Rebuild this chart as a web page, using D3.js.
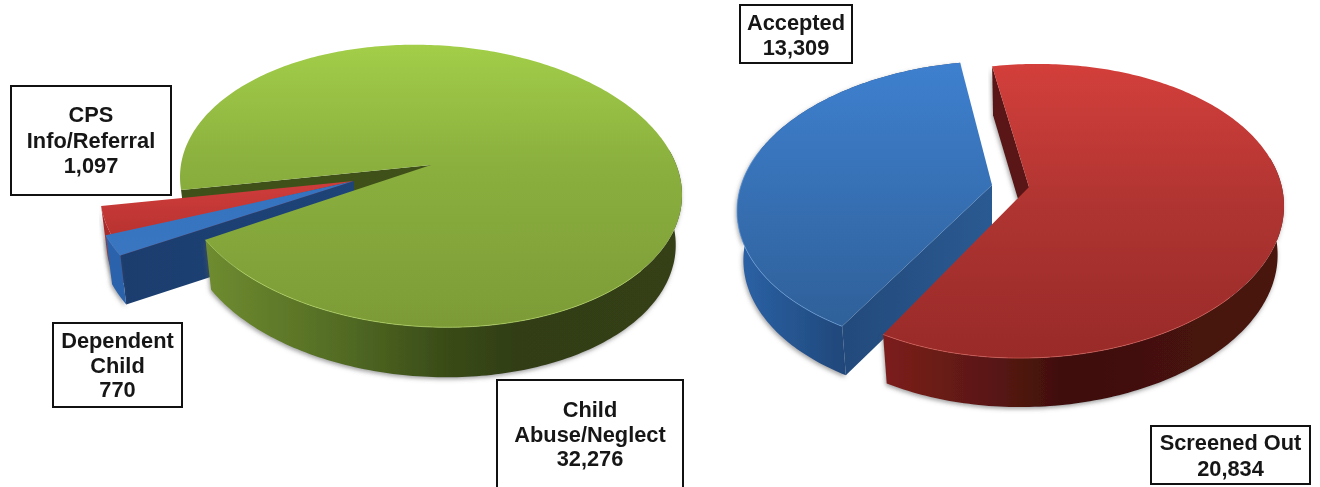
<!DOCTYPE html>
<html>
<head>
<meta charset="utf-8">
<script src="https://cdnjs.cloudflare.com/ajax/libs/d3/7.8.5/d3.min.js"></script>
<style>
html,body{margin:0;padding:0;background:#fff;overflow:hidden}
svg{display:block;filter:blur(0.55px)}
text{font-family:"Liberation Sans",Arial,sans-serif;font-weight:700;font-size:21.8px;fill:#161616;text-anchor:middle}
</style>
</head>
<body>
<svg id="chart" width="1320" height="487"></svg>
<script>
// ---- data ----
const intakeCategories = ["Child Abuse/Neglect", "Dependent Child", "CPS Info/Referral"];
const intakeValues = [32276, 770, 1097];
const screeningCategories = ["Screened Out", "Accepted"];
const screeningValues = [20834, 13309];

// ---- drawing set-up ----
const fmt = d3.format(",");
const rad = d => d * Math.PI / 180;
const svg = d3.select("#chart");
const defs = svg.append("defs");

const shadow = defs.append("filter").attr("id", "shade")
  .attr("x", "-10%").attr("y", "-10%").attr("width", "120%").attr("height", "125%");
shadow.append("feDropShadow").attr("dx", -1).attr("dy", 2).attr("stdDeviation", 2)
  .attr("flood-color", "#555").attr("flood-opacity", 0.55);

function gradient(id, x1, y1, x2, y2, stops) {
  const g = defs.append("linearGradient").attr("id", id)
    .attr("gradientUnits", "userSpaceOnUse")
    .attr("x1", x1).attr("y1", y1).attr("x2", x2).attr("y2", y2);
  stops.forEach(s => g.append("stop").attr("offset", s[0]).attr("stop-color", s[1]));
  return `url(#${id})`;
}

const pieStyles = {
  leftGreen: {
    top: gradient("gTop", 0, 45, 0, 327, [[0, "#a2ce49"], [0.42, "#8bb03e"], [1, "#7c9b37"]]),
    wall: gradient("gWall", 205, 0, 682, 0, [[0, "#6f8c30"], [0.28, "#536c24"], [0.5, "#3a4c18"], [0.65, "#313e13"], [1, "#353f14"]]),
    cut: "#3f5119", edge: "#b5d866"
  },
  leftBlue: {
    top: gradient("lbTop", 108, 180, 108, 260, [[0, "#3473c0"], [1, "#3a76c0"]]),
    wall: "#2c64ab", cut: gradient("lbCut", 120, 0, 355, 0, [[0, "#1b3d6e"], [1, "#1e4478"]]), edge: "#4a86cf"
  },
  leftRed: {
    top: gradient("lrTop", 0, 181, 0, 240, [[0, "#cf3d3b"], [1, "#b63230"]]),
    wall: "#a92c2b", cut: "#7a1f1d", edge: "#d8504e"
  },
  rightRed: {
    top: gradient("rTop", 0, 65, 0, 358, [[0, "#d33f3b"], [0.5, "#ae3431"], [1, "#982a28"]]),
    wall: gradient("rWall", 885, 0, 1284, 0, [[0, "#7c1f1b"], [0.3, "#551612"], [0.45, "#3f0f0c"], [1, "#4b1410"]]),
    cut: "#5a1512", edge: "#d8625c"
  },
  rightBlue: {
    top: gradient("bTop", 0, 63, 0, 326, [[0, "#3e80cf"], [1, "#2f6099"]]),
    wall: gradient("bWall", 738, 0, 850, 0, [[0, "#2b62a6"], [0.7, "#234f86"], [1, "#1f4578"]]),
    cut: gradient("bCut", 848, 0, 993, 0, [[0, "#234a7c"], [1, "#2a5a92"]]), edge: "#6ea2dd"
  }
};

const line = d3.line();

// a disc seen in perspective: the pie centre lands at (cx, cy), the far rim ryTop above it,
// the near rim ryBottom below it, with a slight shear for the camera rotation
function disc(cx, cy, rx, ryTop, ryBottom, depth, shear, turn = 0) {
  const k = (ryTop - ryBottom) / (ryTop + ryBottom);
  const sy = ryBottom * (1 + k), sx = rx * Math.sqrt(1 - k * k);
  const x = d3.scaleLinear().domain([-1, 1]).range([cx - sx, cx + sx]);
  const xLow = d3.scaleLinear().domain([-1, 1]).range([cx - sx * 0.975, cx + sx * 0.975]);
  const y = d3.scaleLinear().domain([-1, 1]).range([cy - sy, cy + sy]);
  const place = (a, xs, dy) => {
    const u = Math.sin(a + turn), v = -Math.cos(a + turn), w = 1 + k * v;
    const px = xs(u / w);
    return [px, y(v / w) + shear * (x(u / w) - cx) + dy];
  };
  return {
    top: a => place(a, x, 0),
    low: a => place(a, xLow, depth),
    apexTop: [cx, cy],
    apexLow: [cx, cy + depth]
  };
}

function rim(a0, a1, f) {
  const n = Math.max(2, Math.ceil(Math.abs(a1 - a0) / rad(1)));
  return d3.range(n + 1).map(i => f(a0 + (a1 - a0) * i / n));
}

function drawCutFace(g, D, a, fill, shaded) {
  const p = g.append("path").attr("fill", fill)
    .attr("d", line([D.apexTop, D.top(a), D.low(a), D.apexLow]) + "Z");
  if (shaded) p.attr("filter", "url(#shade)");
}
function drawOuterWall(g, D, a0, a1, fill) {
  g.append("path").attr("fill", fill).attr("filter", "url(#shade)")
    .attr("d", line([...rim(a0, a1, D.top), ...rim(a1, a0, D.low)]) + "Z");
}
function drawTop(g, D, s, style, a0, a1) {
  g.append("path").attr("fill", style.top)
    .attr("d", line([D.apexTop, ...rim(s.startAngle, s.endAngle, D.top)]) + "Z");
  // soft bright line on the near edge
  if (a1 > a0) g.append("path").attr("fill", "none").attr("stroke", style.edge)
    .attr("stroke-width", 1).attr("stroke-opacity", 0.65).attr("d", line(rim(a0, a1, D.top)));
}

// ---- left pie ----
const leftPie = d3.pie().sort(null).startAngle(rad(256.2)).endAngle(rad(616.2))(intakeValues);
const leftMain = disc(431, 165, 251, 120, 162, 50, 0.036);
const leftRedOut = disc(354, 181, 254, 120, 162, 49, 0.036);
const leftBlueOut = disc(354, 181, 260, 120, 162, 49, 0.036);
const L = svg.append("g").attr("class", "pie-left");

// far cut face of the large slice shows through the gap
drawCutFace(L, leftMain, leftPie[0].startAngle, pieStyles.leftGreen.cut);
// exploded small slices
drawOuterWall(L, leftRedOut, leftPie[2].startAngle, leftPie[2].endAngle, pieStyles.leftRed.wall);
drawCutFace(L, leftRedOut, leftPie[2].startAngle, pieStyles.leftRed.cut);
drawTop(L, leftRedOut, leftPie[2], pieStyles.leftRed, 0, 0);
drawCutFace(L, leftBlueOut, leftPie[1].startAngle, pieStyles.leftBlue.cut);
drawOuterWall(L, leftBlueOut, leftPie[1].startAngle, leftPie[1].endAngle, pieStyles.leftBlue.wall);
drawTop(L, leftBlueOut, leftPie[1], pieStyles.leftBlue, leftPie[1].startAngle, leftPie[1].endAngle);
// large slice: only the near part of its rim is visible
drawOuterWall(L, leftMain, rad(440), leftPie[0].endAngle, pieStyles.leftGreen.wall);
drawTop(L, leftMain, leftPie[0], pieStyles.leftGreen, rad(490), leftPie[0].endAngle);

// ---- right pie ----
const rightPie = d3.pie().sort(null).startAngle(rad(-9.8)).endAngle(rad(350.2))(screeningValues);
const rightRed = disc(1029, 187, 255, 123, 171, 49, -0.02);
const rightBlue = disc(992, 185, 255, 124, 166, 49, -0.02, rad(1.5));
const R = svg.append("g").attr("class", "pie-right");

drawOuterWall(R, rightBlue, rightPie[1].startAngle, rightPie[1].endAngle, pieStyles.rightBlue.wall);
drawCutFace(R, rightBlue, rightPie[1].startAngle, pieStyles.rightBlue.cut);
drawTop(R, rightBlue, rightPie[1], pieStyles.rightBlue, rightPie[1].startAngle, rad(285));
drawCutFace(R, rightRed, rightPie[0].startAngle, pieStyles.rightRed.cut, true);
drawOuterWall(R, rightRed, rad(80), rightPie[0].endAngle, pieStyles.rightRed.wall);
drawTop(R, rightRed, rightPie[0], pieStyles.rightRed, rad(135), rightPie[0].endAngle);

// ---- label boxes ----
const labelBoxes = [
  { lines: ["CPS", "Info/Referral", fmt(intakeValues[2])], x0: 11, y0: 86, x1: 171, y1: 195, bases: [122, 148, 173] },
  { lines: ["Dependent", "Child", fmt(intakeValues[1])], x0: 53, y0: 323, x1: 182, y1: 407, bases: [348, 373, 397] },
  { lines: ["Child", "Abuse/Neglect", fmt(intakeValues[0])], x0: 497, y0: 380, x1: 683, y1: 500, bases: [417, 442, 466] },
  { lines: ["Accepted", fmt(screeningValues[1])], x0: 740, y0: 5, x1: 852, y1: 63, bases: [30, 55] },
  { lines: ["Screened Out", fmt(screeningValues[0])], x0: 1151, y0: 426, x1: 1310, y1: 484, bases: [450, 476] }
];
const box = svg.append("g").attr("class", "labels").selectAll("g").data(labelBoxes).join("g");
box.append("rect")
  .attr("x", d => d.x0).attr("y", d => d.y0)
  .attr("width", d => d.x1 - d.x0).attr("height", d => d.y1 - d.y0)
  .attr("fill", "#fff").attr("stroke", "#111").attr("stroke-width", 2);
box.selectAll("text").data(d => d.lines.map((t, i) => ({ t, x: (d.x0 + d.x1) / 2, y: d.bases[i] })))
  .join("text").attr("x", d => d.x).attr("y", d => d.y).text(d => d.t);
</script>
</body>
</html>
